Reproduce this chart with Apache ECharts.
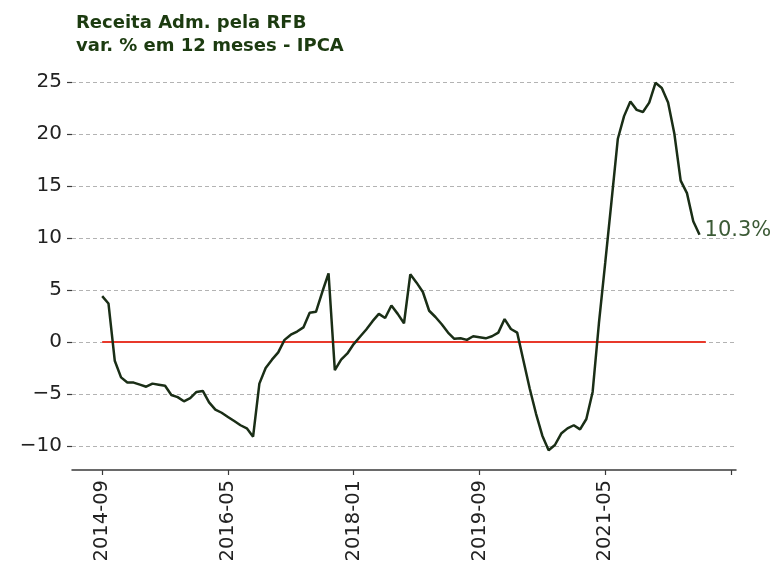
<!DOCTYPE html>
<html>
<head>
<meta charset="utf-8">
<script src="https://cdn.jsdelivr.net/npm/echarts@6/dist/echarts.min.js"></script>
<style>html,body{margin:0;padding:0;background:#fff;}#c{width:781px;height:573px;}</style>
</head>
<body>
<div id="c"></div>
<script>
// monthly index 0 = 2014-09
const values = [
  4.4, 3.7, -1.8, -3.4, -3.9, -3.9, -4.1, -4.3, -4.0, -4.1,
  -4.2, -5.1, -5.3, -5.7, -5.4, -4.8, -4.7, -5.8, -6.5, -6.8,
  -7.2, -7.6, -8.0, -8.3, -9.1, -4.0, -2.5, -1.7, -1.0, 0.2,
  0.7, 1.0, 1.4, 2.8, 2.9, 4.8, 6.6, -2.7, -1.7, -1.1,
  -0.2, 0.5, 1.2, 2.0, 2.7, 2.3, 3.5, 2.7, 1.8, 6.5,
  5.7, 4.8, 3.0, 2.4, 1.7, 0.9, 0.3, 0.35, 0.2, 0.55,
  0.45, 0.35, 0.55, 0.9, 2.2, 1.25, 0.9, -1.8, -4.5, -6.9,
  -9.0, -10.4, -9.9, -8.8, -8.3, -8.0, -8.4, -7.4, -4.8, 1.8,
  7.6, 13.5, 19.5, 21.7, 23.1, 22.3, 22.1, 23.0, 24.9, 24.4,
  23.0, 20.0, 15.5, 14.3, 11.6, 10.3
];
const xTickValues = [0, 20, 40, 60, 80, 100];
const xTickLabels = ['2014-09', '2016-05', '2018-01', '2019-09', '2021-05'];
const yTickValues = [-10, -5, 0, 5, 10, 15, 20, 25];
const titleText = 'Receita Adm. pela RFB\nvar. % em 12 meses - IPCA';

const lineData = values.map((v, i) => [i, v]);
const zeroData = [[0, 0], [values.length, 0]];

const chart = echarts.init(document.getElementById('c'), null, {renderer: 'canvas'});
chart.setOption({
  animation: false,
  backgroundColor: '#ffffff',
  textStyle: {fontFamily: 'DejaVu Sans'},
  title: {
    text: titleText,
    left: 71, top: 7,
    textStyle: {fontFamily: 'DejaVu Sans', fontSize: 18, fontWeight: 'bold', color: '#1c3b10', lineHeight: 23}
  },
  grid: {left: 72, right: 45, top: 62, bottom: 103, containLabel: false},
  xAxis: {
    type: 'value',
    min: -4.8, max: 100.8,
    axisLine: {show: true, onZero: false, lineStyle: {color: '#3a3a3a', width: 1.5}},
    axisTick: {show: true, length: 5, customValues: xTickValues, lineStyle: {color: '#3a3a3a', width: 1.2}},
    axisLabel: {
      customValues: xTickValues.slice(0, xTickLabels.length),
      rotate: 90, margin: 10, fontSize: 19.5, color: '#222', fontFamily: 'DejaVu Sans',
      formatter: v => xTickLabels[Math.round(v / 20)] || ''
    },
    splitLine: {show: false}
  },
  yAxis: {
    type: 'value',
    min: -12.3, max: 26.9,
    axisLine: {show: false, onZero: false},
    axisTick: {show: true, length: 5, customValues: yTickValues, lineStyle: {color: '#3a3a3a', width: 1.2}},
    axisLabel: {
      customValues: yTickValues,
      fontSize: 20, color: '#222', margin: 10, fontFamily: 'DejaVu Sans',
      formatter: v => (v < 0 ? '\u2212' + Math.abs(v) : String(v))
    },
    splitLine: {show: true, lineStyle: {color: '#b3b3b3', width: 1, type: [4, 3]}}
  },
  series: [
    {
      type: 'line', data: zeroData, symbol: 'none', silent: true,
      lineStyle: {color: '#e8392b', width: 2}, z: 3
    },
    {
      type: 'line', data: lineData, symbol: 'none',
      lineStyle: {color: '#1a2e16', width: 2.5}, z: 4,
      endLabel: {
        show: true, distance: 5, offset: [0, -4],
        formatter: p => p.value[1].toFixed(1) + '%',
        fontSize: 21, color: '#3b5a35', fontFamily: 'DejaVu Sans'
      }
    }
  ]
});
</script>
</body>
</html>
